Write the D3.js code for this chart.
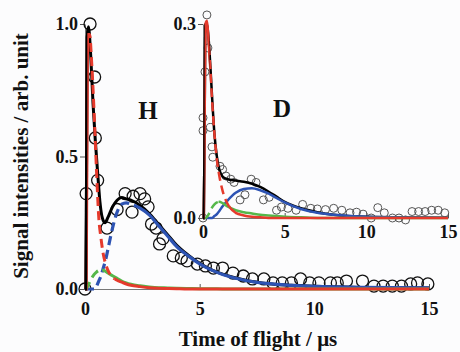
<!DOCTYPE html>
<meta charset="utf-8">
<script src="https://cdn.jsdelivr.net/npm/d3@7"></script>
<style>
  body { margin: 0; background: #fcfcfd; }
  text { font-family: "Liberation Serif", "Times New Roman", serif; font-weight: bold; fill: #111; }
</style>
<body>
<div id="chart"></div>
<script>
  // ---- H (main panel) ----
  var hTime   = [0, 0.05, 0.22, 0.42, 0.45, 0.55, 0.96, 1.4, 1.75, 2.05, 2.1, 2.4, 2.6, 2.75, 2.9, 3.1, 3.25, 3.4,
                 3.85, 4.2, 4.45, 4.9, 5.25, 5.6, 6.0, 6.45, 6.9, 7.3, 7.8, 8.2, 8.6, 9.0, 9.4, 9.8, 10.2, 10.7,
                 11.0, 11.4, 12.1, 12.6, 13.0, 13.4, 13.8, 14.2, 14.5, 14.95];
  var hSignal = [0, 0.36, 1.0, 0.80, 0.57, 0.41, 0.23, 0.30, 0.36, 0.29, 0.35, 0.36, 0.34, 0.31, 0.245, 0.23, 0.17, 0.19,
                 0.125, 0.117, 0.106, 0.094, 0.087, 0.079, 0.079, 0.06, 0.049, 0.038, 0.038, 0.023, 0.023, 0.023, 0.038, 0.023, 0.023, 0.023,
                 0.023, 0.03, 0.03, 0.011, 0.011, 0.011, 0.011, 0.019, 0.023, 0.019];

  var hFitT   = [0, 0.04, 0.07, 0.1, 0.15, 0.25, 0.35, 0.45, 0.55, 0.65, 0.75, 0.87, 1.0, 1.2, 1.4, 1.6, 1.8, 2.0, 2.4, 2.8,
                 3.2, 3.6, 4.0, 4.5, 5, 5.5, 6, 7, 8, 9, 10, 12, 15];
  var hTotal  = [0, 0, 0.5, 0.95, 0.99, 0.88, 0.70, 0.56, 0.44, 0.33, 0.27, 0.25, 0.27, 0.31, 0.335, 0.345, 0.34, 0.335, 0.315, 0.285,
                 0.245, 0.205, 0.165, 0.128, 0.097, 0.073, 0.056, 0.033, 0.02, 0.014, 0.01, 0.006, 0.004];

  var hCompT  = [0, 0.05, 0.08, 0.12, 0.2, 0.3, 0.4, 0.5, 0.6, 0.7, 0.8, 0.9, 1.0, 1.2, 1.4, 1.6, 1.8, 2.0, 2.4, 2.8,
                 3.2, 3.6, 4.0, 4.5, 5, 5.5, 6, 7, 8, 9, 10, 12, 15];
  var hFast   = [0, 0, 0.45, 0.96, 0.96, 0.84, 0.66, 0.45, 0.27, 0.19, 0.13, 0.095, 0.07, 0.045, 0.033, 0.026, 0.019, 0.014, 0.009, 0.005,
                 0.003, 0.002, 0.001, 0, 0, 0, 0, 0, 0, 0, 0, 0, 0];
  var hMid    = [0, 0, 0.005, 0.01, 0.025, 0.042, 0.055, 0.064, 0.07, 0.072, 0.071, 0.066, 0.06, 0.05, 0.04, 0.03, 0.023, 0.018, 0.012, 0.008,
                 0.005, 0.004, 0.003, 0.002, 0.001, 0.001, 0, 0, 0, 0, 0, 0, 0];
  var hSlow   = [0, 0, 0, 0, 0, 0, 0, 0.01, 0.03, 0.05, 0.08, 0.11, 0.15, 0.23, 0.29, 0.32, 0.325, 0.32, 0.305, 0.28,
                 0.24, 0.20, 0.16, 0.125, 0.095, 0.072, 0.055, 0.032, 0.02, 0.014, 0.01, 0.006, 0.004];

  // ---- D (inset) ----
  var dTime   = [0, 0, 0, 0.12, 0.24, 0.3, 0.45, 0.55, 0.6, 1.04, 1.2, 1.4, 1.7, 1.9, 2.27, 2.57, 2.95, 3.25, 3.7, 4.05,
                 4.5, 4.8, 5.2, 5.7, 6.1, 6.6, 7.0, 7.5, 8.0, 8.5, 9.0, 9.4, 9.8, 10.3, 10.7, 11.1, 11.6, 12.0, 12.4,
                 12.8, 13.2, 13.6, 14.0, 14.4, 14.8];
  var dSignal = [0, 0.155, 0.135, 0.226, 0.314, 0.263, 0.14, 0.11, 0.094, 0.08, 0.075, 0.065, 0.06, 0.055, 0.028, 0.036, 0.06, 0.055, 0.028, 0.032,
                 0.012, 0.017, 0.015, 0.012, 0.021, 0.015, 0.014, 0.013, 0.015, 0.012, 0.008, 0.009, 0.006, 0.0, 0.016, 0.008, 0.0, 0.0, -0.003,
                 0.01, 0.01, 0.01, 0.012, 0.012, 0.008];

  var dFitT   = [0, 0.05, 0.1, 0.15, 0.25, 0.35, 0.45, 0.55, 0.7, 0.85, 1.0, 1.2, 1.5, 2.0, 2.5, 3.0, 3.5, 4.0, 4.5, 5, 6, 7, 8, 10, 15];
  var dTotal  = [0, 0, 0.15, 0.30, 0.30, 0.275, 0.235, 0.19, 0.13, 0.095, 0.075, 0.064, 0.06, 0.058, 0.056, 0.053, 0.048, 0.041, 0.033, 0.025,
                 0.015, 0.009, 0.005, 0.002, 0.0005];
  var dFast   = [0, 0, 0.15, 0.30, 0.305, 0.27, 0.23, 0.185, 0.13, 0.09, 0.065, 0.042, 0.022, 0.008, 0.004, 0.002, 0.001, 0, 0, 0,
                 0, 0, 0, 0, 0];
  var dMid    = [0, 0, 0, 0, 0.002, 0.006, 0.011, 0.016, 0.021, 0.024, 0.025, 0.023, 0.018, 0.012, 0.009, 0.007, 0.005, 0.004, 0.003, 0.002,
                 0.001, 0, 0, 0, 0];
  var dSlow   = [0, 0, 0, 0, 0, 0, 0, 0, 0.003, 0.006, 0.011, 0.018, 0.027, 0.039, 0.045, 0.046, 0.043, 0.038, 0.031, 0.024,
                 0.014, 0.008, 0.005, 0.002, 0.0005];

  var xTicks = [0, 5, 10, 15];
  var hYTicks = [0, 0.5, 1.0];
  var dYTicks = [0, 0.3];

  var width = 460, height = 352;
  var svg = d3.select("#chart").append("svg")
      .attr("width", width).attr("height", height);

  var mx = d3.scaleLinear().domain([0, 15]).range([85, 429]);
  var my = d3.scaleLinear().domain([0, 1]).range([289, 24]);
  var ix = d3.scaleLinear().domain([0, 15]).range([203, 448]);
  var iy = d3.scaleLinear().domain([0, 0.3]).range([218, 24]);

  var clipId = 0;
  function clipRect(x0, x1) {
    var id = "clip" + (clipId++);
    svg.append("clipPath").attr("id", id)
      .append("rect").attr("x", x0).attr("y", 0).attr("width", x1 - x0).attr("height", height);
    return "url(#" + id + ")";
  }

  function drawAxes(x, y, yTicks, xPad) {
    var gx = svg.append("g").attr("transform", "translate(0," + y(0) + ")")
      .call(d3.axisBottom(x).tickValues(xTicks).tickSizeInner(-5).tickSizeOuter(0).tickPadding(xPad));
    var gy = svg.append("g").attr("transform", "translate(" + x(0) + ",0)")
      .call(d3.axisLeft(y).tickValues(yTicks).tickFormat(d3.format(".1f")).tickSize(5).tickSizeOuter(0).tickPadding(2));
    [gx, gy].forEach(function(g) {
      g.select(".domain").attr("stroke", "#777");
      g.selectAll(".tick line").attr("stroke", "#555");
      g.selectAll("text").attr("font-family", null).style("font-size", "18px").attr("fill", "#111");
    });
  }

  function drawCircles(x, y, ts, vs, r, col, sw) {
    svg.append("g").selectAll("circle").data(ts).enter().append("circle")
      .attr("cx", function(d) { return x(d); })
      .attr("cy", function(d, i) { return y(vs[i]); })
      .attr("r", r)
      .attr("fill", "none").attr("stroke", col).attr("stroke-width", sw);
  }

  function curvePath(x, y, ts, vs, col, sw, clip, dash) {
    var line = d3.line()
      .x(function(d) { return x(d); })
      .y(function(d, i) { return y(vs[i]); })
      .curve(d3.curveMonotoneX);
    var p = svg.append("path").datum(ts).attr("d", line)
      .attr("fill", "none").attr("stroke", col).attr("stroke-width", sw);
    if (clip) p.attr("clip-path", clip);
    if (dash) p.attr("stroke-dasharray", dash);
  }

  function drawCurve(x, y, ts, vs, col, sw, dashFrom, dashTo) {
    if (dashFrom == null) { curvePath(x, y, ts, vs, col, sw); return; }
    var a = x(dashFrom), b = x(dashTo);
    curvePath(x, y, ts, vs, col, sw, clipRect(a, b), "9,5");
    curvePath(x, y, ts, vs, col, sw, clipRect(0, a));
    curvePath(x, y, ts, vs, col, sw, clipRect(b, width));
  }

  var red = "#e53a2c", green = "#55b84a", blue = "#2d53b3";

  // main H panel
  drawAxes(mx, my, hYTicks, 13);
  drawCircles(mx, my, hTime, hSignal, 6, "#111", 1.3);
  drawCurve(mx, my, hFitT, hTotal, "#000", 3);
  drawCurve(mx, my, hCompT, hSlow, blue, 3.2, -1, 2.4);
  drawCurve(mx, my, hCompT, hMid, green, 3, -1, 0.75);
  drawCurve(mx, my, hCompT, hFast, red, 3, 0.17, 1.3);
  // rising edge of the total stays on top
  curvePath(mx, my, hFitT, hTotal, "#000", 3, clipRect(0, mx(0.1)));

  // inset D panel
  drawAxes(ix, iy, dYTicks, 7);
  drawCircles(ix, iy, dTime, dSignal, 4, "#555", 1);
  drawCurve(ix, iy, dFitT, dTotal, "#000", 2.5);
  drawCurve(ix, iy, dFitT, dSlow, blue, 2.5);
  drawCurve(ix, iy, dFitT, dMid, green, 2.5, -1, 0.95);
  drawCurve(ix, iy, dFitT, dFast, red, 2.5, 0.4, 1.6);
  curvePath(ix, iy, dFitT, dTotal, "#000", 2.5, clipRect(0, ix(0.1)));

  svg.append("text").attr("x", 148).attr("y", 119).attr("text-anchor", "middle")
    .style("font-size", "25px").text("H");
  svg.append("text").attr("x", 282).attr("y", 117).attr("text-anchor", "middle")
    .style("font-size", "25px").text("D");

  svg.append("text").attr("x", 258).attr("y", 346).attr("text-anchor", "middle")
    .style("font-size", "21px").text("Time of flight / μs");
  svg.append("text").attr("transform", "translate(28,156)rotate(-90)").attr("text-anchor", "middle")
    .style("font-size", "21px").text("Signal intensities / arb. unit");
</script>
</body>
